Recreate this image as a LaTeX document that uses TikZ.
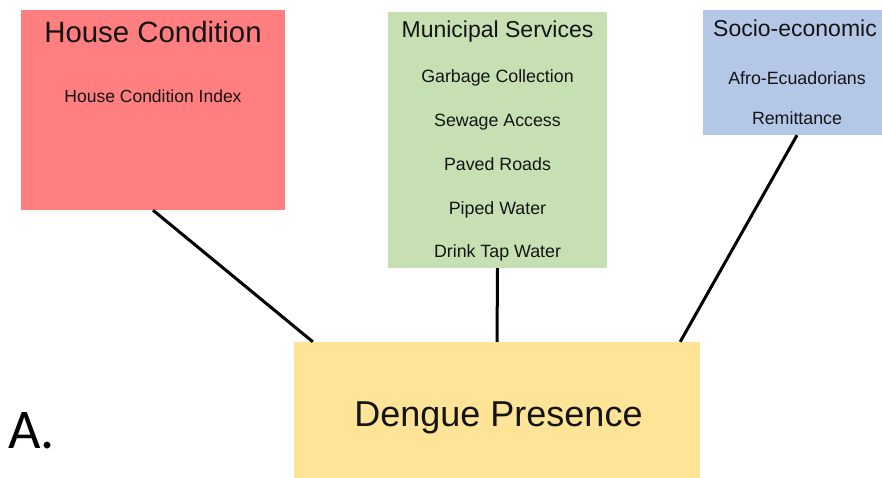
\documentclass[tikz,border=0pt]{standalone}
\usepackage{fontspec}
\setmainfont{Liberation Sans}
\newfontfamily\panelfont{Carlito}
\usetikzlibrary{positioning}
\definecolor{houseRed}{HTML}{FF7E80}
\definecolor{serviceGreen}{HTML}{C6E0B4}
\definecolor{socioBlue}{HTML}{B4C7E7}
\definecolor{dengueYellow}{HTML}{FFE497}
\definecolor{textDark}{HTML}{141414}
\tikzset{
  box/.style={rectangle, draw=none, inner sep=0pt},
  heading/.style={anchor=base, inner sep=0pt, text=textDark, font=\fontsize{23}{27}\selectfont},
  item/.style={anchor=base, inner sep=0pt, text=textDark, font=\fontsize{17.8}{21}\selectfont},
  link/.style={line width=3pt, black}
}
\begin{document}
\begin{tikzpicture}[x=1pt, y=1pt]
\useasboundingbox (0,0) rectangle (882,478);
% factor boxes
\node [box, fill=houseRed, minimum width=264pt, minimum height=200pt] (house) at (153,368) {};
\node [box, fill=serviceGreen, minimum width=219pt, minimum height=256pt] (services) at (497.5,338) {};
\node [box, fill=socioBlue, minimum width=188pt, minimum height=125pt] (socio) at (797,405.5) {};
\node [box, fill=dengueYellow, minimum width=406pt, minimum height=140pt] (dengue) at (497,66) {};
% house condition
\node [heading, font=\fontsize{29.4}{34}\selectfont] (houseTitle) at (153,435) {House Condition};
\node [item, font=\fontsize{17.5}{21}\selectfont] (houseIndex) at (153,375) {House Condition Index};
% municipal services
\node [heading] (servicesTitle) at (497.5,440) {Municipal Services};
\foreach \service [count=\i] in {Garbage Collection, Sewage Access, Paved Roads, Piped Water, Drink Tap Water}
\node [item] (service\i) at ({497.5},{395-43.75*(\i-1)}) {\service};
% socio-economic
\node [heading] (socioTitle) at (795,441) {Socio-economic};
\node [item] (socioAfro) at (797,393) {Afro-Ecuadorians};
\node [item] (socioRemit) at (797,353) {Remittance};
% outcome
\node [heading, font=\fontsize{36}{40}\selectfont] (dengueTitle) at (498.5,51) {Dengue Presence};
\node [anchor=base west, inner sep=0pt, font=\panelfont\fontsize{56}{60}\selectfont] (panel) at (8,29) {A.};
% links
\draw [link] (house.south) -- ([xshift=19pt]dengue.north west);
\draw [link] (services.south) -- (dengue.north);
\draw [link] (socio.south) -- ([xshift=-20pt]dengue.north east);
\end{tikzpicture}
\end{document}
